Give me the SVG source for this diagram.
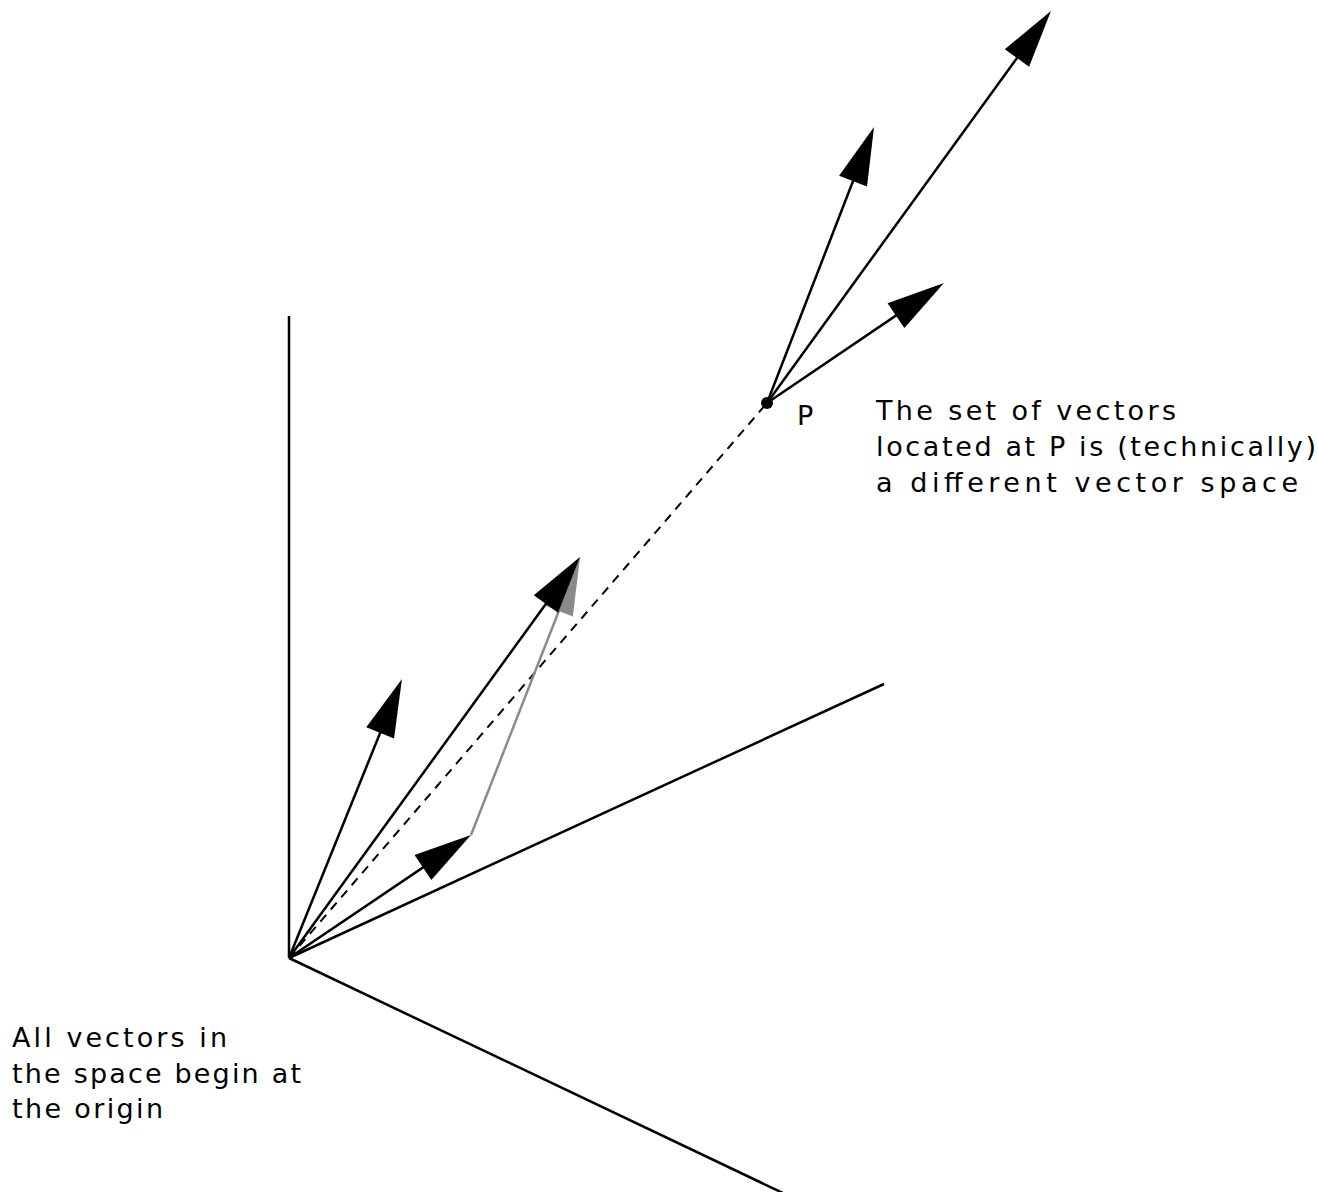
<svg xmlns="http://www.w3.org/2000/svg" width="1318" height="1192" viewBox="0 0 1318 1192">
<style>
.ax{stroke:#000;stroke-width:2.5;fill:none}
.vec{stroke:#000;stroke-width:2.5;fill:none;marker-end:url(#ah)}
.gvec{stroke:#8a8a8a;stroke-width:2.5;fill:none;marker-end:url(#ahg)}
.dash{stroke:#000;stroke-width:2;fill:none;stroke-dasharray:9 7}
.lbl{font-family:"DejaVu Sans","Liberation Sans",sans-serif;font-size:27px;fill:#000}
</style>
<defs>
<marker id="ah" markerUnits="userSpaceOnUse" orient="auto" refX="-10" refY="0" overflow="visible">
<path d="M0,0 L-58,-15 L-58,15 Z" fill="#000"/>
</marker>
<marker id="ahg" markerUnits="userSpaceOnUse" orient="auto" refX="-10" refY="0" overflow="visible">
<path d="M0,0 L-58,-15 L-58,15 Z" fill="#8a8a8a"/>
</marker>
</defs>
<rect width="1318" height="1192" fill="#fff"/>
<g id="axes">
<line class="ax" x1="289" y1="316" x2="289" y2="958"/>
<line class="ax" x1="289" y1="958" x2="884" y2="684"/>
<line class="ax" x1="289" y1="958" x2="785" y2="1194"/>
</g>
<g id="connectors">
<line class="dash" x1="289" y1="958" x2="767" y2="403"/>
<line class="gvec" x1="471" y1="835" x2="576.4" y2="566.3"/>
<line class="vec" x1="289" y1="958" x2="398.2" y2="688.3"/>
<line class="vec" x1="289" y1="958" x2="574.1" y2="565.1"/>
<line class="vec" x1="289" y1="958" x2="462.7" y2="840.6"/>
<line class="vec" x1="767" y1="403" x2="1045.1" y2="19.1"/>
<line class="vec" x1="767" y1="403" x2="870.4" y2="136.3"/>
<line class="vec" x1="767" y1="403" x2="935.7" y2="288.6"/>
</g>
<g id="point-P">
<circle cx="767" cy="403" r="6" fill="#000"/>
<text class="lbl" x="797" y="425">P</text>
</g>
<g id="label-P">
<text class="lbl" x="876" y="420" textLength="300" lengthAdjust="spacing">The set of vectors</text>
<text class="lbl" x="876" y="456" textLength="440" lengthAdjust="spacing">located at P is (technically)</text>
<text class="lbl" x="876" y="492" textLength="422" lengthAdjust="spacing">a different vector space</text>
</g>
<g id="label-origin">
<text class="lbl" x="12" y="1047" textLength="215" lengthAdjust="spacing">All vectors in</text>
<text class="lbl" x="12" y="1083" textLength="289" lengthAdjust="spacing">the space begin at</text>
<text class="lbl" x="12" y="1118" textLength="151" lengthAdjust="spacing">the origin</text>
</g>
</svg>
